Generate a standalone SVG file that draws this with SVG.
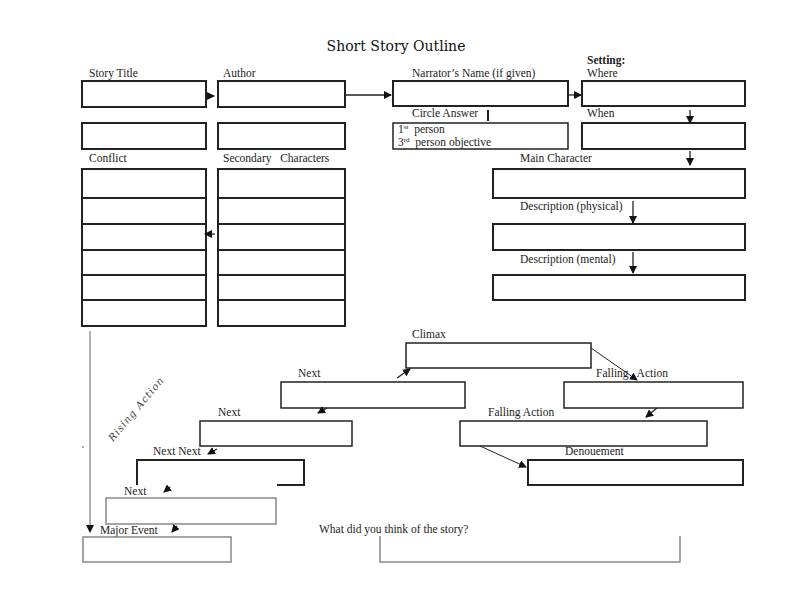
<svg xmlns="http://www.w3.org/2000/svg" width="790" height="610" viewBox="0 0 790 610">
<style>
text{font-family:"Liberation Serif","Times New Roman",serif;font-size:11.5px;fill:#222}
.b{fill:#fff;stroke:#222;stroke-width:2}
.g{fill:#fff;stroke:#888;stroke-width:1.5}
.gn{fill:none;stroke:#888;stroke-width:1.5}
.bn{fill:none;stroke:#222;stroke-width:2}
.c{stroke:#222;stroke-width:1.3;fill:none}
.ah{fill:#111}
</style>
<defs>
<marker id="ar" markerWidth="8" markerHeight="8" refX="7" refY="4" orient="auto" markerUnits="userSpaceOnUse"><path d="M0,0 L8,4 L0,8 Z" class="ah"/></marker>
</defs>
<rect width="790" height="610" fill="#fff"/>
<text x="396" y="51" text-anchor="middle" style="font-family:'DejaVu Serif',serif;font-size:14px;fill:#111">Short Story Outline</text>

<g id="story-title"><text x="89" y="77">Story Title</text><rect class="b" x="82" y="81" width="124" height="26"/></g>
<g id="author"><text x="223" y="77">Author</text><rect class="b" x="218" y="81" width="127" height="26"/></g>
<g id="narrator"><text x="412" y="77">Narrator’s Name (if given)</text><rect class="b" x="393" y="81" width="175" height="25"/></g>
<g id="where"><text x="587" y="64" style="font-weight:bold">Setting:</text><text x="587" y="77">Where</text><rect class="b" x="582" y="81" width="163" height="25"/></g>
<g id="title-2"><rect class="b" x="82" y="123" width="124" height="26"/></g>
<g id="author-2"><rect class="b" x="218" y="123" width="127" height="26"/></g>
<g id="circle-answer"><text x="412" y="117">Circle Answer</text><line x1="488" y1="110" x2="488" y2="121" stroke="#222" stroke-width="2"/><rect class="b" x="393" y="123" width="175" height="26" style="stroke-width:1.5"/><text x="398" y="133">1<tspan dy="-4" font-size="7">st</tspan><tspan dy="4">&#160; person</tspan></text><text x="398" y="146">3<tspan dy="-4" font-size="7">rd</tspan><tspan dy="4">&#160; person objective</tspan></text></g>
<g id="when"><text x="587" y="117">When</text><rect class="b" x="582" y="123" width="163" height="26"/></g>
<g id="main-character"><text x="520" y="162">Main Character</text><rect class="b" x="493" y="169" width="252" height="29"/></g>
<g id="desc-physical"><text x="520" y="210">Description (physical)</text><rect class="b" x="493" y="224" width="252" height="26"/></g>
<g id="desc-mental"><text x="520" y="263">Description (mental)</text><rect class="b" x="493" y="275" width="252" height="25"/></g>
<g id="conflict"><text x="89" y="162">Conflict</text><rect class="b" x="82" y="169" width="124" height="157"/><path class="bn" d="M82,198H206M82,224H206M82,250H206M82,275H206M82,300H206"/></g>
<g id="secondary"><text x="223" y="162">Secondary&#160;&#160; Characters</text><rect class="b" x="218" y="169" width="127" height="157"/><path class="bn" d="M218,198H345M218,224H345M218,250H345M218,275H345M218,300H345"/></g>

<g id="climax"><text x="412" y="338">Climax</text><rect class="b" x="406" y="343" width="185" height="25" style="stroke-width:1.5"/></g>
<g id="next-4"><text x="298" y="377">Next</text><rect class="b" x="281" y="382" width="184" height="26" style="stroke-width:1.5"/></g>
<g id="next-3"><text x="218" y="416">Next</text><rect class="b" x="200" y="421" width="152" height="25" style="stroke-width:1.5"/></g>
<g id="next-next"><text x="153" y="455">Next Next</text><path class="bn" d="M137,485V460H304V485H277"/></g>
<g id="next-1"><text x="124" y="495">Next</text><rect class="g" x="106" y="498" width="170" height="26"/></g>
<g id="major-event"><text x="100" y="534">Major Event</text><rect class="g" x="83" y="537" width="148" height="25"/></g>
<g id="falling-1"><text x="596" y="377">Falling&#160;&#160; Action</text><rect class="b" x="564" y="382" width="179" height="26" style="stroke-width:1.5"/></g>
<g id="falling-2"><text x="488" y="416">Falling Action</text><rect class="b" x="460" y="421" width="247" height="25" style="stroke-width:1.5"/></g>
<g id="denouement"><text x="565" y="455">Denouement</text><rect class="b" x="528" y="460" width="215" height="25"/></g>
<g id="opinion"><text x="319" y="533">What did you think of the story?</text><path class="gn" d="M380,536V562H680V536"/></g>
<g id="rising-label"><text x="0" y="0" transform="translate(113,442) rotate(-50)" style="font-family:'DejaVu Serif',serif;font-style:italic;font-size:10px;fill:#444;letter-spacing:1px">Rising Action</text></g>

<g id="connectors">
<line class="c" x1="206" y1="96" x2="214" y2="96" marker-end="url(#ar)"/>
<line class="c" x1="345" y1="95" x2="391" y2="95" marker-end="url(#ar)"/>
<line class="c" x1="568" y1="95" x2="581" y2="95" marker-end="url(#ar)"/>
<line class="c" x1="690" y1="110" x2="690" y2="123" marker-end="url(#ar)"/>
<line class="c" x1="690" y1="151" x2="690" y2="165" marker-end="url(#ar)"/>
<line class="c" x1="633" y1="201" x2="633" y2="223" marker-end="url(#ar)"/>
<line class="c" x1="633" y1="252" x2="633" y2="273" marker-end="url(#ar)"/>
<line class="c" x1="215" y1="234" x2="205" y2="234" marker-end="url(#ar)"/>
<line x1="90" y1="331" x2="90" y2="532" stroke="#999" stroke-width="1.5" marker-end="url(#ar)"/>
<circle cx="83" cy="447" r="0.8" fill="#444"/>
<line class="c" x1="397" y1="378" x2="410" y2="369" marker-end="url(#ar)"/>
<line class="c" x1="327" y1="408" x2="318" y2="413" marker-end="url(#ar)"/>
<line class="c" x1="217" y1="449" x2="208" y2="454" marker-end="url(#ar)"/>
<line class="c" x1="170" y1="487" x2="164" y2="492" marker-end="url(#ar)"/>
<line class="c" x1="177" y1="526" x2="172" y2="532" marker-end="url(#ar)"/>
<line class="c" x1="591" y1="348" x2="637" y2="380" marker-end="url(#ar)" style="stroke-width:1"/>
<line class="c" x1="657" y1="408" x2="646" y2="417" marker-end="url(#ar)"/>
<line class="c" x1="480" y1="446" x2="526" y2="467" marker-end="url(#ar)" style="stroke-width:1"/>
</g>
</svg>
